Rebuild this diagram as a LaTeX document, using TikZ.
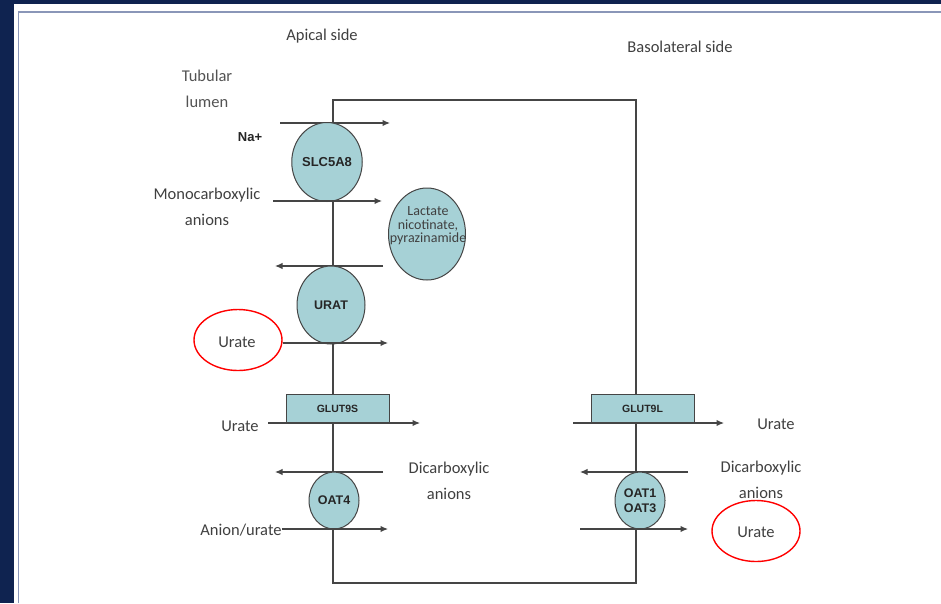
\documentclass[tikz,border=0pt]{standalone}
\usepackage{fontspec}
\setmainfont{Carlito}
\newfontfamily\protfont{Liberation Sans}
\usetikzlibrary{shapes.geometric,arrows.meta}
\definecolor{navy}{HTML}{0F2350}
\definecolor{framec}{HTML}{8A96B8}
\definecolor{linec}{HTML}{454545}
\definecolor{protfill}{HTML}{A6D1D6}
\definecolor{txt}{HTML}{404040}
\tikzset{
  x=1pt, y=-1pt,
  lbl/.style={text=txt, font=\fontsize{16.5}{26}\selectfont, inner sep=0pt, align=center},
  prot/.style={ellipse, draw=linec, line width=1pt, fill=protfill, inner sep=0pt,
     font=\protfont\bfseries\fontsize{12.5}{14}\selectfont, text=black!85},
  protbox/.style={rectangle, draw=linec, line width=1pt, fill=protfill, inner sep=0pt,
     minimum width=103pt, minimum height=29pt, font=\protfont\bfseries\fontsize{10.5}{12}\selectfont, text=black!85},
  memb/.style={draw=linec, line width=1.3pt},
  arr/.style={draw=linec, line width=1.2pt, -{Latex[length=7.5pt,width=6.5pt]}},
  redring/.style={ellipse, draw=red, line width=1.4pt, minimum width=88pt, minimum height=61pt, inner sep=0pt}
}
\begin{document}
\begin{tikzpicture}
\useasboundingbox (0,0) rectangle (941,603);
% background
\fill[navy] (0,0) rectangle (941,603);
\fill[white] (14,4) rectangle (941,603);
\draw[framec, line width=1.5pt] (18.5,603) -- (18.5,12) -- (941,12);

% cell outline
\coordinate (tl) at (333,100);
\coordinate (tr) at (636,100);
\coordinate (br) at (636,583);
\coordinate (bl) at (333,583);
\draw[memb] (tl) -- (tr) -- (br) -- (bl) -- cycle;

% side titles
\node[lbl] (apical) at (322,36) {Apical side};
\node[lbl] (baso) at (680,47) {Basolateral side};
\node[lbl, text=txt!90] (lumen) at (207,89) {Tubular\\lumen};

% SLC5A8
\coordinate (a1s) at (280,123);
\coordinate (a1e) at (390,123);
\draw[arr] (a1s) -- (a1e);
\node[prot, minimum width=67pt, minimum height=79pt, font=\protfont\bfseries\fontsize{13}{14}\selectfont] (slc) at (327,162) {SLC5A8};
\node[text=black!85, font=\protfont\bfseries\fontsize{13}{14}\selectfont, inner sep=0pt] (na) at (250,137) {Na+};

\node[lbl] (mono) at (207,207) {Monocarboxylic\\anions};
\coordinate (a2s) at (273,201);
\coordinate (a2e) at (382,201);
\draw[arr] (a2s) -- (a2e);

% Lactate
\node[ellipse, draw=linec, line width=1pt, fill=protfill, minimum width=77pt, minimum height=92pt, inner sep=0pt] (lact) at (427,234) {};
\node[text=txt, font=\fontsize{14}{13.5}\selectfont, align=center, inner sep=0pt] (lacttxt) at (428,226) {Lactate\\nicotinate,\\pyrazinamide};

\coordinate (a3s) at (383,266);
\coordinate (a3e) at (275,266);
\draw[arr] (a3s) -- (a3e);

% URAT
\node[prot, minimum width=68pt, minimum height=78pt] (urat) at (331,305) {URAT};
\node[lbl] (urate1) at (237,342) {Urate};
\node[redring] (ring1) at (238,340) {};
\coordinate (a4e) at (388,343);
\draw[arr] (ring1.east |- a4e) -- (a4e);

% GLUT9S
\node[protbox] (glut9s) at (337.5,408.5) {GLUT9S};
\node[lbl] (urate2) at (240,426) {Urate};
\coordinate (a5s) at (268,423);
\coordinate (a5e) at (420,423);
\draw[arr] (a5s) -- (a5e);

% OAT4
\coordinate (a6s) at (383,472);
\coordinate (a6e) at (275,472);
\draw[arr] (a6s) -- (a6e);
\node[prot, minimum width=50pt, minimum height=57pt] (oat4) at (334,500.5) {OAT4};
\node[lbl] (anion) at (241,530) {Anion/urate};
\coordinate (a7e) at (388,529);
\draw[arr] (anion.east |- a7e) -- (a7e);
\node[lbl] (dicl) at (449,481) {Dicarboxylic\\anions};

% GLUT9L
\node[protbox] (glut9l) at (642.5,408.5) {GLUT9L};
\coordinate (b1s) at (573,423);
\coordinate (b1e) at (724,423);
\draw[arr] (b1s) -- (b1e);
\node[lbl] (urate3) at (776,424) {Urate};

% OAT1/OAT3
\coordinate (b2s) at (688,472);
\coordinate (b2e) at (580,472);
\draw[arr] (b2s) -- (b2e);
\node[prot, minimum width=50pt, minimum height=57pt, align=center, font=\protfont\bfseries\fontsize{12.5}{15}\selectfont] (oat13) at (640,500.5) {OAT1\\OAT3};
\coordinate (b3s) at (580,529);
\coordinate (b3e) at (688,529);
\draw[arr] (b3s) -- (b3e);
\node[lbl] (dicr) at (761,480) {Dicarboxylic\\anions};
\node[lbl] (urate4) at (756,532) {Urate};
\node[redring] (ring2) at (756,531) {};
\end{tikzpicture}
\end{document}
